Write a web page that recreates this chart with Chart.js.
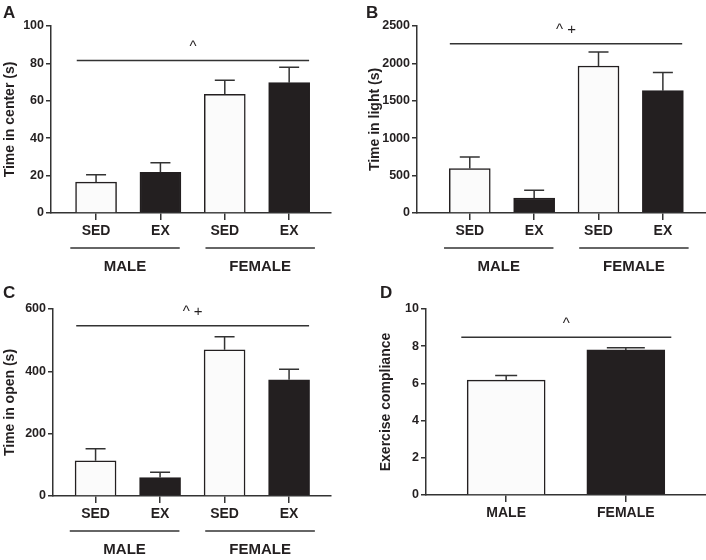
<!DOCTYPE html>
<html>
<head>
<meta charset="utf-8">
<script src="https://cdn.jsdelivr.net/npm/chart.js@4/dist/chart.umd.min.js"></script>
<style>
  body { margin: 0; background: #fff; }
  .panel { position: absolute; width: 353px; height: 280px; }
</style>
</head>
<body>
<div class="panel" style="left:0;top:0"><canvas id="chartA"></canvas></div>
<div class="panel" style="left:353px;top:0"><canvas id="chartB"></canvas></div>
<div class="panel" style="left:0;top:280px"><canvas id="chartC"></canvas></div>
<div class="panel" style="left:353px;top:280px"><canvas id="chartD"></canvas></div>
<script>
// categories
const treatLabels = ["SED", "EX", "SED", "EX"];
const sexLabels = ["MALE", "FEMALE"];

// A: time in center (mean, and top of error bar)
const centerMean = [16.5, 21.8, 63.5, 69.7];
const centerUpper = [20.5, 26.9, 71.0, 77.9];
const centerTicks = [0, 20, 40, 60, 80, 100];

// B: time in light
const lightMean = [594, 200, 1965, 1636];
const lightUpper = [749, 303, 2152, 1877];
const lightTicks = [0, 500, 1000, 1500, 2000, 2500];

// C: time in open
const openMean = [113, 59, 469, 373];
const openUpper = [152, 76, 511, 407];
const openTicks = [0, 200, 400, 600];

// D: exercise compliance
const complianceMean = [6.18, 7.80];
const complianceUpper = [6.43, 7.92];
const complianceTicks = [0, 2, 4, 6, 8, 10];

// significance bars
const sigLevels = [81.5, 2264, 546, 8.48];
const sigMarks = ["^", "^ +", "^ +", "^"];

const INK = "#231f20";
const LINE = "#333333";
const WHITE = "#fbfbfb";

Chart.defaults.font.family = 'Arial, "Liberation Sans", Helvetica, sans-serif';
Chart.defaults.color = INK;

function makePanel(id, cfg) {
  const decor = {
    id: "decor" + id,
    afterDatasetsDraw(chart) {
      const { ctx, scales: { x, y } } = chart;
      ctx.save();
      ctx.strokeStyle = LINE;
      ctx.lineWidth = 1.5;
      cfg.upper.forEach((u, i) => {
        const cx = x.getPixelForValue(i);
        const yTop = y.getPixelForValue(u);
        const yBar = y.getPixelForValue(cfg.mean[i]);
        ctx.beginPath();
        ctx.moveTo(cx, yBar);
        ctx.lineTo(cx, yTop);
        ctx.moveTo(cx - cfg.cap[i], yTop);
        ctx.lineTo(cx + cfg.cap[i], yTop);
        ctx.stroke();
      });
      ctx.restore();
    },
    afterDraw(chart) {
      const { ctx, chartArea, scales: { x, y } } = chart;
      ctx.save();
      ctx.strokeStyle = LINE;
      ctx.lineWidth = 1.5;
      ctx.fillStyle = INK;

      // significance line + marks
      const ly = y.getPixelForValue(cfg.sig);
      const x0 = x.getPixelForValue(cfg.sigFrom), x1 = x.getPixelForValue(cfg.sigTo);
      ctx.beginPath();
      ctx.moveTo(x0, ly);
      ctx.lineTo(x1, ly);
      ctx.stroke();
      ctx.font = '15px Arial, "Liberation Sans", sans-serif';
      ctx.textAlign = "center";
      ctx.textBaseline = "alphabetic";
      ctx.fillText(cfg.mark, (x0 + x1) / 2, ly - 9.5);

      // group lines under the axis
      (cfg.groups || []).forEach(g => {
        const gx0 = x.getPixelForValue(g.from), gx1 = x.getPixelForValue(g.to);
        const gy = chartArea.bottom + 35;
        ctx.beginPath();
        ctx.moveTo(gx0, gy);
        ctx.lineTo(gx1, gy);
        ctx.stroke();
        ctx.font = 'bold 15px Arial, "Liberation Sans", sans-serif';
        ctx.textBaseline = "middle";
        ctx.fillText(g.text, (gx0 + gx1) / 2, chartArea.bottom + 54);
      });

      // panel letter
      ctx.font = 'bold 17px Arial, "Liberation Sans", sans-serif';
      ctx.textAlign = "left";
      ctx.textBaseline = "alphabetic";
      ctx.fillText(cfg.letter, cfg.letterX, 18);
      ctx.restore();
    }
  };

  new Chart(document.getElementById(id), {
    type: "bar",
    data: {
      datasets: [{
        data: cfg.mean.map((v, i) => ({ x: i, y: v })),
        backgroundColor: cfg.fills,
        borderColor: INK,
        borderWidth: 1.5,
        borderSkipped: "bottom",
        barThickness: cfg.barW
      }]
    },
    options: {
      responsive: true,
      maintainAspectRatio: false,
      animation: false,
      layout: { padding: { left: cfg.padLeft, top: cfg.top, right: cfg.padRight, bottom: 0 } },
      plugins: { legend: { display: false }, tooltip: { enabled: false } },
      scales: {
        x: {
          type: "linear",
          offset: false,
          min: cfg.xMin,
          max: cfg.xMax,
          afterBuildTicks: ax => { ax.ticks = cfg.labels.map((_, i) => ({ value: i })); },
          afterFit: ax => { ax.height = cfg.xHeight; },
          ticks: {
            callback: v => cfg.labels[v],
            font: { size: 14, weight: "bold" },
            color: INK,
            padding: 3,
            maxRotation: 0,
            autoSkip: false
          },
          grid: { offset: false, drawOnChartArea: false, tickLength: 7, color: LINE, lineWidth: 1.5 },
          border: { color: LINE, width: 1.5 }
        },
        y: {
          min: 0,
          max: cfg.ticks[cfg.ticks.length - 1],
          afterBuildTicks: ax => { ax.ticks = cfg.ticks.map(v => ({ value: v })); },
          afterFit: ax => { ax.width = cfg.yWidth; },
          ticks: { callback: v => String(v), font: { size: 12.5, weight: "bold" }, color: INK, padding: 2 },
          grid: { drawOnChartArea: false, tickLength: 5, color: LINE, lineWidth: 1.5 },
          border: { color: LINE, width: 1.5 },
          title: {
            display: true,
            text: cfg.title,
            font: { size: 14, weight: "bold" },
            color: INK,
            padding: { top: 2, bottom: 0 }
          }
        }
      }
    },
    plugins: [decor]
  });
}

const fourFills = [WHITE, INK, WHITE, INK];
const sexGroups = [
  { text: sexLabels[0], from: -0.4, to: 1.3 },
  { text: sexLabels[1], from: 1.7, to: 3.4 }
];

makePanel("chartA", {
  letter: "A", letterX: 3, title: "Time in center (s)",
  labels: treatLabels, mean: centerMean, upper: centerUpper, ticks: centerTicks,
  sig: sigLevels[0], mark: sigMarks[0], sigFrom: -0.3, sigTo: 3.31,
  groups: sexGroups, fills: fourFills, cap: [10, 10, 10, 10], barW: 41,
  xMin: -0.70, xMax: 3.65, padLeft: 0, yWidth: 51, top: 26, padRight: 22, xHeight: 67
});

makePanel("chartB", {
  letter: "B", letterX: 13, title: "Time in light (s)",
  labels: treatLabels, mean: lightMean, upper: lightUpper, ticks: lightTicks,
  sig: sigLevels[1], mark: sigMarks[1], sigFrom: -0.31, sigTo: 3.30,
  groups: sexGroups, fills: fourFills, cap: [10, 10, 10, 10], barW: 41,
  xMin: -0.82, xMax: 3.67, padLeft: 12, yWidth: 52, top: 26, padRight: 0, xHeight: 67
});

makePanel("chartC", {
  letter: "C", letterX: 3, title: "Time in open (s)",
  labels: treatLabels, mean: openMean, upper: openUpper, ticks: openTicks,
  sig: sigLevels[2], mark: sigMarks[2], sigFrom: -0.3, sigTo: 3.31,
  groups: sexGroups, fills: fourFills, cap: [10, 10, 10, 10], barW: 41,
  xMin: -0.66, xMax: 3.65, padLeft: 0, yWidth: 53, top: 29, padRight: 22, xHeight: 64
});

makePanel("chartD", {
  letter: "D", letterX: 27, title: "Exercise compliance",
  labels: sexLabels, mean: complianceMean, upper: complianceUpper, ticks: complianceTicks,
  sig: sigLevels[3], mark: sigMarks[3], sigFrom: -0.375, sigTo: 1.38,
  groups: null, fills: [WHITE, INK], cap: [11, 19], barW: 78,
  xMin: -0.67, xMax: 1.67, padLeft: 23, yWidth: 50, top: 29, padRight: 0, xHeight: 65
});
</script>
</body>
</html>
